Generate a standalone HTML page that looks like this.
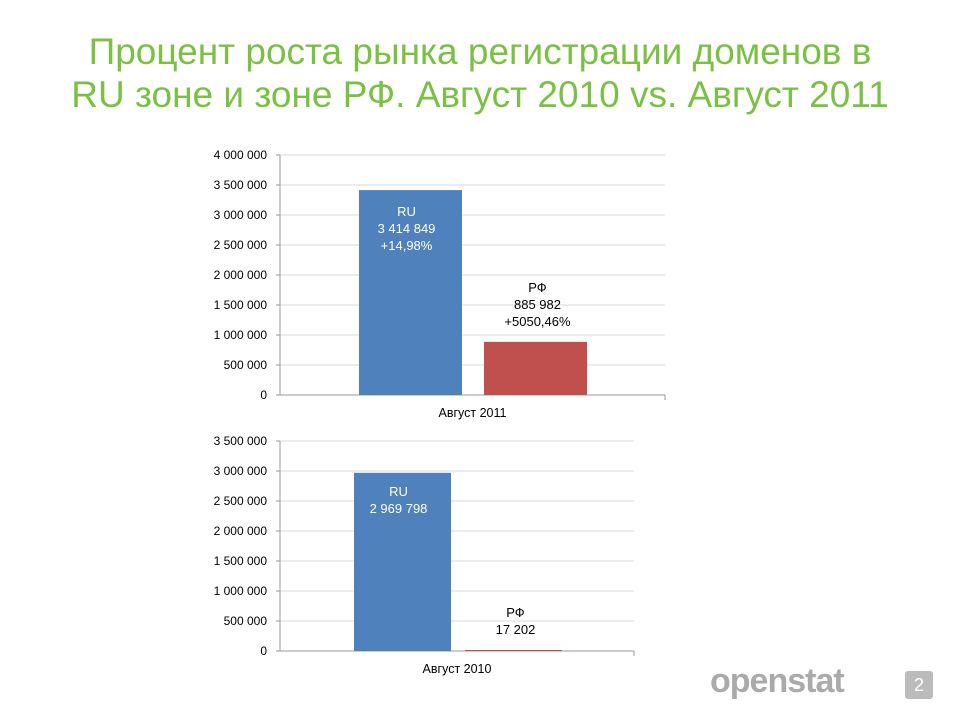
<!DOCTYPE html>
<html><head><meta charset="utf-8">
<style>
body{margin:0;width:960px;height:720px;background:#fff;overflow:hidden;font-family:"Liberation Sans","DejaVu Sans",sans-serif;}
#title{position:absolute;left:0;top:30px;width:960px;text-align:center;color:#7ac143;font-size:37px;line-height:43px;}
svg{position:absolute;left:0;top:0;}
</style></head>
<body>
<div id="title">Процент роста рынка регистрации доменов в<br>RU зоне и зоне РФ. Август 2010 vs. Август 2011</div>
<svg id="chart" width="960" height="720"></svg>
<script>
const categories1 = ["RU","РФ"];
const values1 = [3414849, 885982];
const labels1 = [["RU","3 414 849","+14,98%"],["РФ","885 982","+5050,46%"]];
const ticks1 = [0,500000,1000000,1500000,2000000,2500000,3000000,3500000,4000000];
const categories2 = ["RU","РФ"];
const values2 = [2969798, 17202];
const labels2 = [["RU","2 969 798"],["РФ","17 202"]];
const ticks2 = [0,500000,1000000,1500000,2000000,2500000,3000000,3500000];
const colors = ["#4f81bd","#c0504d"];
const NS="http://www.w3.org/2000/svg";
const svg=document.getElementById('chart');
function fmt(v){return v===0?"0":v.toLocaleString('en-US').replace(/,/g,' ');}
function mk(tag,attrs,parent){const e=document.createElementNS(NS,tag);for(const k in attrs)e.setAttribute(k,attrs[k]);(parent||svg).appendChild(e);return e;}
function drawChart(cfg){
  const g=mk('g',{});
  
  
  const y=v=>cfg.y0-(v/1000000)*60;
  cfg.ticks.forEach(t=>{
    const gl=mk('line',{x1:cfg.x0,x2:cfg.x1,y1:y(t),y2:y(t),stroke:t===0?'#999':'#d9d9d9','stroke-width':1},g);
    
    
    mk('line',{x1:cfg.x0-4,x2:cfg.x0,y1:y(t),y2:y(t),stroke:'#999'},g);
    const tx=mk('text',{x:cfg.x0-13,y:y(t)+4,'text-anchor':'end','font-size':12,fill:'#000'},g);
    tx.textContent=fmt(t);
    
    
  });
  mk('line',{x1:cfg.x0,x2:cfg.x0,y1:y(cfg.ticks[cfg.ticks.length-1]),y2:cfg.y0,stroke:'#999'},g);
  mk('line',{x1:cfg.x1,x2:cfg.x1,y1:cfg.y0,y2:cfg.y0+5,stroke:'#999'},g);
  cfg.values.forEach((v,i)=>{
    const bx=cfg.barX[i];
    const r=mk('rect',{x:bx,y:y(v),width:cfg.bw,height:cfg.y0-y(v),fill:colors[i]},g);
    
    
    const lines=cfg.labels[i];
    const inside=i===0;
    const cx=bx+cfg.bw/2+(inside?-4:2);
    const top=inside?y(v)+cfg.inOff:y(v)-lines.length*17+1;
    lines.forEach((s,j)=>{
      const t=mk('text',{x:cx,y:top+j*17,'text-anchor':'middle','font-size':13,fill:inside?'#fff':'#000'},g);
      t.textContent=s;
      
      
    });
  });
  const xl=mk('text',{x:(cfg.x0+cfg.x1)/2,y:cfg.y0+22,'text-anchor':'middle','font-size':12.5,fill:'#000'},g);
  xl.textContent=cfg.xlabel;
  
  
}
drawChart({name:'chart-august-2011',x0:280,x1:665,y0:395,ticks:ticks1,values:values1,labels:labels1,barX:[359,484],bw:103,inOff:26,xlabel:'Август 2011'});
drawChart({name:'chart-august-2010',x0:280,x1:634,y0:651,ticks:ticks2,values:values2,labels:labels2,barX:[354,465],bw:97,inOff:23,xlabel:'Август 2010'});
</script>
<div style="position:absolute;left:710px;top:662px;font-size:34px;font-weight:bold;color:#aaa;letter-spacing:-1px;">openstat</div>
<div style="position:absolute;left:905px;top:671px;width:28px;height:28px;background:#bbb;border-radius:3px;color:#fff;font-size:18px;text-align:center;line-height:28px;">2</div>
</body></html>
